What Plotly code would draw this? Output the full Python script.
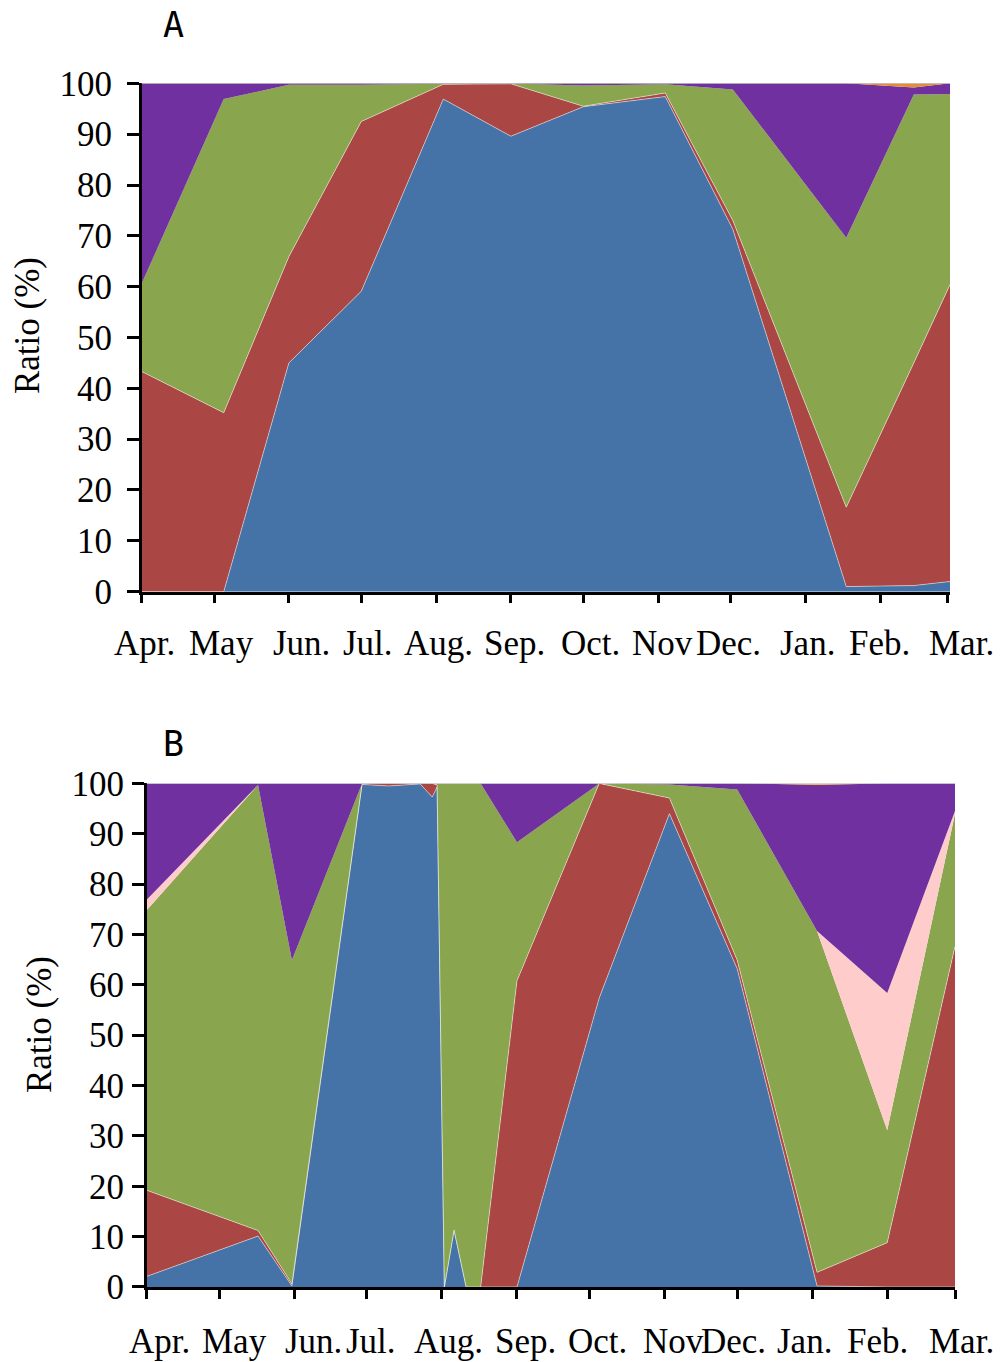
import plotly.graph_objects as go

# ---------------- Panel A: sampling dates and composition (%) ----------------
a_dates = ["2010-04-01", "2010-05-05", "2010-06-01", "2010-07-01", "2010-08-04", "2010-09-01",
           "2010-10-01", "2010-11-04", "2010-12-02", "2011-01-18", "2011-02-15", "2011-03-02"]
a_group1 = [0.0, 0.0, 45.0, 59.1, 96.9, 89.6, 95.4, 97.4, 71.3, 1.0, 1.2, 2.0]
a_group2 = [43.3, 35.2, 20.9, 33.4, 2.9, 10.3, 0.1, 0.7, 1.7, 15.6, 43.8, 58.4]
a_group3 = [17.3, 61.7, 33.8, 7.2, 0.1, 0.05, 4.1, 1.7, 25.8, 53.0, 52.8, 37.5]
a_group5 = [39.4, 3.1, 0.3, 0.3, 0.1, 0.05, 0.4, 0.2, 1.2, 30.4, 1.4, 2.1]
a_group6 = [0.0, 0.0, 0.0, 0.0, 0.0, 0.0, 0.0, 0.0, 0.0, 0.0, 0.8, 0.0]

# ---------------- Panel B: sampling dates and composition (%) ----------------
b_dates = ["2010-04-01", "2010-05-17", "2010-05-31", "2010-06-29", "2010-07-10", "2010-07-23",
           "2010-07-28", "2010-07-30", "2010-08-02", "2010-08-06", "2010-08-11", "2010-08-17",
           "2010-09-01", "2010-10-05", "2010-11-03", "2010-12-01", "2011-01-03", "2011-02-01",
           "2011-03-01"]
b_group1 = [2.1, 10.1, 0.2, 99.8, 99.5, 99.9, 97.3, 99.3, 0.0, 11.3, 0.0, 0.0,
            0.0, 57.4, 94.0, 63.2, 0.2, 0.0, 0.0]
b_group2 = [17.1, 1.1, 0.4, 0.2, 0.5, 0.1, 2.7, 0.4, 0.0, 0.0, 0.0, 0.0,
            60.8, 42.6, 3.1, 1.7, 2.7, 8.8, 67.6]
b_group3 = [55.6, 88.5, 64.3, 0.0, 0.0, 0.0, 0.0, 0.3, 100.0, 88.7, 100.0, 100.0,
            27.5, 0.0, 2.7, 33.9, 67.8, 22.3, 26.4]
b_group4 = [2.1, 0.0, 0.0, 0.0, 0.0, 0.0, 0.0, 0.0, 0.0, 0.0, 0.0, 0.0,
            0.0, 0.0, 0.0, 0.0, 0.0, 27.3, 0.5]
b_group5 = [23.1, 0.3, 35.1, 0.0, 0.0, 0.0, 0.0, 0.0, 0.0, 0.0, 0.0, 0.0,
            11.7, 0.0, 0.2, 1.2, 29.05, 41.57, 5.5]
b_group6 = [0.0, 0.0, 0.0, 0.0, 0.0, 0.0, 0.0, 0.0, 0.0, 0.0, 0.0, 0.0,
            0.0, 0.0, 0.0, 0.0, 0.25, 0.03, 0.0]

# ---------------- Axis ticks and labels ----------------
month_starts = ["2010-04-01", "2010-05-01", "2010-06-01", "2010-07-01", "2010-08-01", "2010-09-01",
                "2010-10-01", "2010-11-01", "2010-12-01", "2011-01-01", "2011-02-01", "2011-03-01"]
month_labels = ["Apr.", "May", "Jun.", "Jul.", "Aug.", "Sep.", "Oct.", "Nov", "Dec.", "Jan.", "Feb.", "Mar."]
y_ticks = [0, 10, 20, 30, 40, 50, 60, 70, 80, 90, 100]

# horizontal nudges (px) of each month label from its tick
a_label_shift = [3, 7, 13, 7, 2, 4, 7, 4, -2, 2, -1, 14]
b_label_shift = [13, 15, 19, 4, 7, 9, 8, 9, -4, -8, -10, 6]

COL_BLUE = "#4673A7"
COL_RED = "#AA4643"
COL_GREEN = "#89A54E"
COL_PINK = "#FFCCCC"
COL_PURPLE = "#7030A0"
COL_ORANGE_A = "#E38D3A"
COL_ORANGE_B = "#F2B329"

SERIF = "Liberation Serif"
LETTER_FONT = "DejaVu Sans Mono"
SEAM = dict(width=0.8, color="rgba(255,255,255,0.6)")
NOLINE = dict(width=0)

fig = go.Figure()


def add_stack(xs, series, xa, ya, group):
    for vals, color, line in series:
        fig.add_trace(go.Scatter(
            x=xs, y=vals, mode="lines", stackgroup=group,
            line=dict(shape="linear", **line), fillcolor=color,
            xaxis=xa, yaxis=ya, showlegend=False, hoverinfo="skip",
        ))


add_stack(a_dates, [
    (a_group1, COL_BLUE, SEAM),
    (a_group2, COL_RED, SEAM),
    (a_group3, COL_GREEN, NOLINE),
    (a_group5, COL_PURPLE, NOLINE),
    (a_group6, COL_ORANGE_A, NOLINE),
], "x", "y", "A")

add_stack(b_dates, [
    (b_group1, COL_BLUE, SEAM),
    (b_group2, COL_RED, SEAM),
    (b_group3, COL_GREEN, NOLINE),
    (b_group4, COL_PINK, NOLINE),
    (b_group5, COL_PURPLE, NOLINE),
    (b_group6, COL_ORANGE_B, NOLINE),
], "x2", "y2", "B")

xaxis_common = dict(
    type="date", tickmode="array", tickvals=month_starts, showticklabels=False,
    ticks="outside", ticklen=9, tickwidth=2.5, tickcolor="black",
    showline=True, linecolor="black", linewidth=2.5, showgrid=False, zeroline=False,
    automargin=False,
)
yaxis_common = dict(
    range=[0, 100], tickmode="array", tickvals=y_ticks, ticktext=[str(v) for v in y_ticks],
    ticks="outside", ticklen=12, tickwidth=2.5, tickcolor="black",
    showline=True, linecolor="black", linewidth=2.5, showgrid=False, zeroline=False,
    tickfont=dict(family=SERIF, size=35, color="black"),
    automargin=False,
)

A_DOM_X = [0.1417, 0.950]
A_DOM_Y = [0.5656, 0.9388]
B_DOM_X = [0.1467, 0.955]
B_DOM_Y = [0.0551, 0.4248]

fig.update_layout(
    template="none",
    width=1000, height=1362, autosize=False,
    margin=dict(l=0, r=0, t=0, b=0, pad=0),
    font=dict(family=SERIF, size=35, color="black"),
    paper_bgcolor="white", plot_bgcolor="white",
    xaxis=dict(domain=A_DOM_X, anchor="y", range=[a_dates[0], a_dates[-1]], **xaxis_common),
    yaxis=dict(domain=A_DOM_Y, anchor="x", ticklabelstandoff=8, **yaxis_common),
    xaxis2=dict(domain=B_DOM_X, anchor="y2", range=[b_dates[0], b_dates[-1]], **xaxis_common),
    yaxis2=dict(domain=B_DOM_Y, anchor="x2", ticklabelstandoff=1, **yaxis_common),
)

annotations = []
for xa, shifts, ypos in (("x", a_label_shift, 0.5276), ("x2", b_label_shift, 0.0154)):
    for d, lab, sh in zip(month_starts, month_labels, shifts):
        annotations.append(dict(
            x=d, xref=xa, y=ypos, yref="paper", text=lab, showarrow=False,
            xanchor="center", yanchor="middle", xshift=sh,
            font=dict(family=SERIF, size=35, color="black"),
        ))

# y-axis titles
for xpos, ypos in ((0.027, 0.7606), (0.039, 0.2474)):
    annotations.append(dict(
        x=xpos, y=ypos, xref="paper", yref="paper", text="Ratio (%)", textangle=-90,
        showarrow=False, xanchor="center", yanchor="middle",
        font=dict(family=SERIF, size=35, color="black"),
    ))

# panel letters
for letter, ypos in (("A", 0.9816), ("B", 0.4537)):
    annotations.append(dict(
        x=0.173, y=ypos, xref="paper", yref="paper", text=letter, showarrow=False,
        xanchor="center", yanchor="middle",
        font=dict(family=LETTER_FONT, size=35, color="black"),
    ))

fig.update_layout(annotations=annotations)

# faint frame line along the 100 % level
fig.add_shape(type="line", xref="x domain", yref="y", x0=0, x1=1, y0=100, y1=100,
              line=dict(color="#B8B8B8", width=1), layer="above")
fig.add_shape(type="line", xref="x2 domain", yref="y2", x0=0, x1=1, y0=100, y1=100,
              line=dict(color="#B8B8B8", width=1), layer="above")

fig.write_html("out.html")
